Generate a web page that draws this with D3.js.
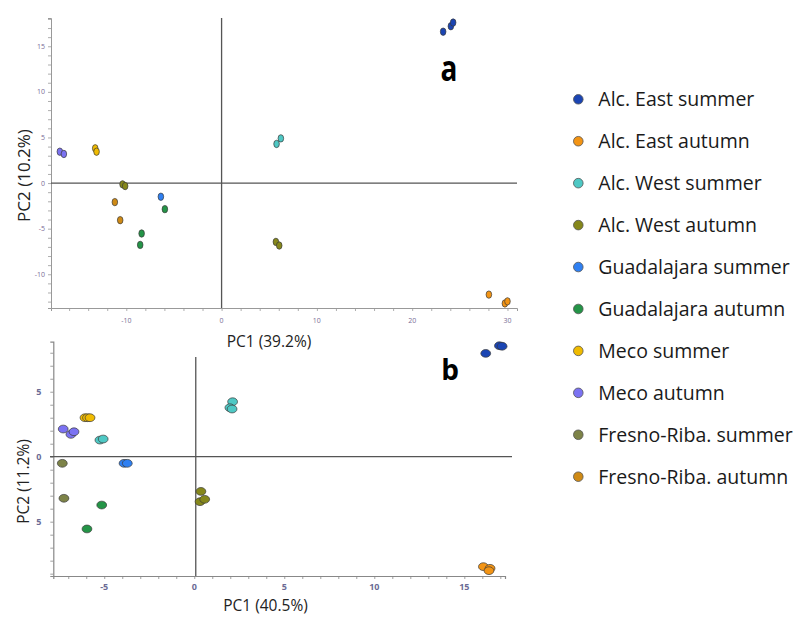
<!DOCTYPE html>
<html><head><meta charset="utf-8">
<script src="https://cdn.jsdelivr.net/npm/d3@7"></script>
<style>body{margin:0;background:#fff;} svg{display:block;font-family:"Open Sans",sans-serif;}</style>
</head><body><svg id="chart" width="800" height="621"></svg>
<script>
// ---------- data ----------
const seriesNames = ["Alc. East summer","Alc. East autumn","Alc. West summer","Alc. West autumn",
  "Guadalajara summer","Guadalajara autumn","Meco summer","Meco autumn",
  "Fresno-Riba. summer","Fresno-Riba. autumn"];
const seriesColors = ["#1b45b3","#f39414","#4ec8c4","#85871b","#2f80f2",
  "#249447","#f0bb00","#7b72f2","#7d8348","#cf8a15"];
// panel a : [series index, PC1, PC2]
const panelAPoints = [
  [0,23.25,16.6],[0,24.06,17.2],[0,24.3,17.6],
  [1,28.05,-12.23],[1,29.73,-13.2],[1,30.0,-12.97],
  [2,5.77,4.29],[2,6.22,4.9],
  [3,-10.39,-0.14],[3,-10.12,-0.33],[3,5.70,-6.45],[3,6.05,-6.85],
  [4,-6.37,-1.5],
  [5,-5.95,-2.86],[5,-8.39,-5.53],[5,-8.54,-6.78],
  [6,-13.26,3.81],[6,-13.12,3.44],
  [7,-16.97,3.44],[7,-16.55,3.19],
  [9,-11.2,-2.09],[9,-10.64,-4.07]
];
// panel b : [series index, PC1, PC2]
const panelBPoints = [
  [0,16.19,7.95],[0,16.95,8.54],[0,17.1,8.5],
  [1,16.06,-8.46],[1,16.43,-8.59],[1,16.37,-8.77],
  [2,2.13,4.23],[2,1.98,3.77],[2,2.1,3.67],[2,-5.24,1.28],[2,-5.06,1.36],
  [3,0.37,-2.67],[3,0.32,-3.46],[3,0.58,-3.28],
  [4,-3.9,-0.51],[4,-3.72,-0.51],
  [5,-5.14,-3.72],[5,-5.96,-5.56],
  [6,-6.07,3.0],[6,-5.93,3.0],[6,-5.79,3.0],
  [7,-7.28,2.13],[7,-6.85,1.72],[7,-6.68,1.92],
  [8,-7.33,-0.51],[8,-7.24,-3.2]
];
const panelAXTickLabels = [-10,0,10,20,30];
const panelAYTickLabels = [-10,-5,0,5,10,15];
const panelBXTickLabels = [-5,0,5,10,15];
const panelBYTicks = [-5,0,5];
const panelBYTickText = ["5","0","5"];
const panelATitles = ["PC1 (39.2%)","PC2 (10.2%)"];
const panelBTitles = ["PC1 (40.5%)","PC2 (11.2%)"];
const panelLetters = ["a","b"];

// ---------- drawing ----------
const svg = d3.select("#chart");

function drawPanel(cfg){
  const x = d3.scaleLinear().domain(cfg.xDomain).range([cfg.left,cfg.right]);
  const y = d3.scaleLinear().domain(cfg.yDomain).range([cfg.bottom,cfg.top]);
  const g = svg.append("g");
  const xAxis = d3.axisBottom(x).tickValues(cfg.xMinor).tickSize(cfg.tick).tickFormat("");
  const yAxis = d3.axisLeft(y).tickValues(cfg.yMinor).tickSize(cfg.tick).tickFormat("");
  const gx = g.append("g").attr("transform",`translate(0,${cfg.bottom})`).call(xAxis);
  const gy = g.append("g").attr("transform",`translate(${cfg.left},0)`).call(yAxis);
  [gx,gy].forEach(a=>{a.select(".domain").attr("stroke",cfg.axisColor).attr("stroke-width",cfg.axisW);
    a.selectAll(".tick line").attr("stroke",cfg.axisColor).attr("stroke-width",0.8);});
  g.selectAll(".xl").data(cfg.xLabels).join("text")
    .attr("x",d=>x(d)).attr("y",cfg.bottom+cfg.xLabelDy).attr("text-anchor","middle")
    .attr("font-size",cfg.tickFont).attr("fill",cfg.tickColor).attr("font-weight",cfg.tickWeight)
    .text(d=>d);
  g.selectAll(".yl").data(cfg.yLabels).join("text")
    .attr("x",cfg.left-cfg.yLabelDx).attr("y",d=>y(d)).attr("dy","0.35em").attr("text-anchor","end")
    .attr("font-size",cfg.tickFont).attr("fill",cfg.tickColor).attr("font-weight",cfg.tickWeight)
    .text((d,i)=>cfg.yText?cfg.yText[i]:d);
  g.append("line").attr("x1",cfg.hx0).attr("x2",cfg.hx1).attr("y1",y(0)).attr("y2",y(0))
    .attr("stroke","#555").attr("stroke-width",1.3);
  g.append("line").attr("x1",x(0)+cfg.vShift).attr("x2",x(0)+cfg.vShift).attr("y1",cfg.vy0).attr("y2",cfg.bottom)
    .attr("stroke","#555").attr("stroke-width",1.3);
  g.selectAll(".pt").data(cfg.points).join("ellipse")
    .attr("cx",d=>x(d[1])).attr("cy",d=>y(d[2])).attr("rx",cfg.rx).attr("ry",cfg.ry)
    .attr("fill",d=>seriesColors[d[0]]).attr("stroke","#3a3a3a").attr("stroke-width",0.7);
  g.append("text").attr("x",cfg.xtPos[0]).attr("y",cfg.xtPos[1]).attr("text-anchor","middle")
    .attr("font-size",15.5).attr("fill","#222").text(cfg.titles[0]);
  g.append("text").attr("transform",`translate(${cfg.ytPos[0]},${cfg.ytPos[1]}) rotate(-90)`)
    .attr("text-anchor","middle").attr("dy","0.35em")
    .attr("font-size",cfg.ytFont).attr("fill","#222").text(cfg.titles[1]);
  g.append("text").attr("transform",`translate(${cfg.letterPos[0]},${cfg.letterPos[1]}) scale(1,${cfg.letterScale})`)
    .attr("text-anchor","middle").attr("font-size",28).attr("font-weight","bold").attr("fill","#000")
    .text(cfg.letter);
}

drawPanel({
  xDomain:[-17.9,31.0], yDomain:[-13.7,18.1], left:51, right:517, top:18, bottom:308,
  xMinor:d3.range(-16,31,2), yMinor:d3.range(-13,19,1), tick:3, axisColor:"#999", axisW:1,
  xLabels:panelAXTickLabels, yLabels:panelAYTickLabels, xLabelDy:15, yLabelDx:6,
  tickFont:7, tickColor:"#7a6c96", tickWeight:"normal",
  hx0:51, hx1:517, vy0:18, vShift:0, points:panelAPoints, rx:2.8, ry:3.7,
  titles:panelATitles, xtPos:[269,347], ytPos:[24,175.5], ytFont:17,
  letter:panelLetters[0], letterPos:[449,81], letterScale:1.3
});
drawPanel({
  xDomain:[-7.83,17.26], yDomain:[-9.18,8.85], left:53.3, right:505, top:341.7, bottom:576,
  xMinor:d3.range(-7,18,1), yMinor:d3.range(-9,9,1), tick:3, axisColor:"#888", axisW:1.2,
  xLabels:panelBXTickLabels, yLabels:panelBYTicks, yText:panelBYTickText, xLabelDy:14, yLabelDx:12,
  tickFont:9, tickColor:"#6b6b95", tickWeight:"bold",
  hx0:50, hx1:512, vy0:357, vShift:1.5, points:panelBPoints, rx:4.9, ry:3.9,
  titles:panelBTitles, xtPos:[265.5,611], ytPos:[24,481.5], ytFont:15.5,
  letter:panelLetters[1], letterPos:[450,380], letterScale:1
});

// legend
const lg = svg.append("g");
const legY = d3.scalePoint().domain(seriesNames).range([99.3,476.7]);
const items = lg.selectAll("g").data(seriesNames).join("g")
  .attr("transform",d=>`translate(578.3,${legY(d)})`);
items.append("circle").attr("r",4.8).attr("fill",(d,i)=>seriesColors[i])
  .attr("stroke","#555").attr("stroke-width",0.8);
items.append("text").attr("x",20).attr("dy","0.35em").attr("font-size",19.5).attr("fill","#1a1a1a").text(d=>d);
</script></body></html>
